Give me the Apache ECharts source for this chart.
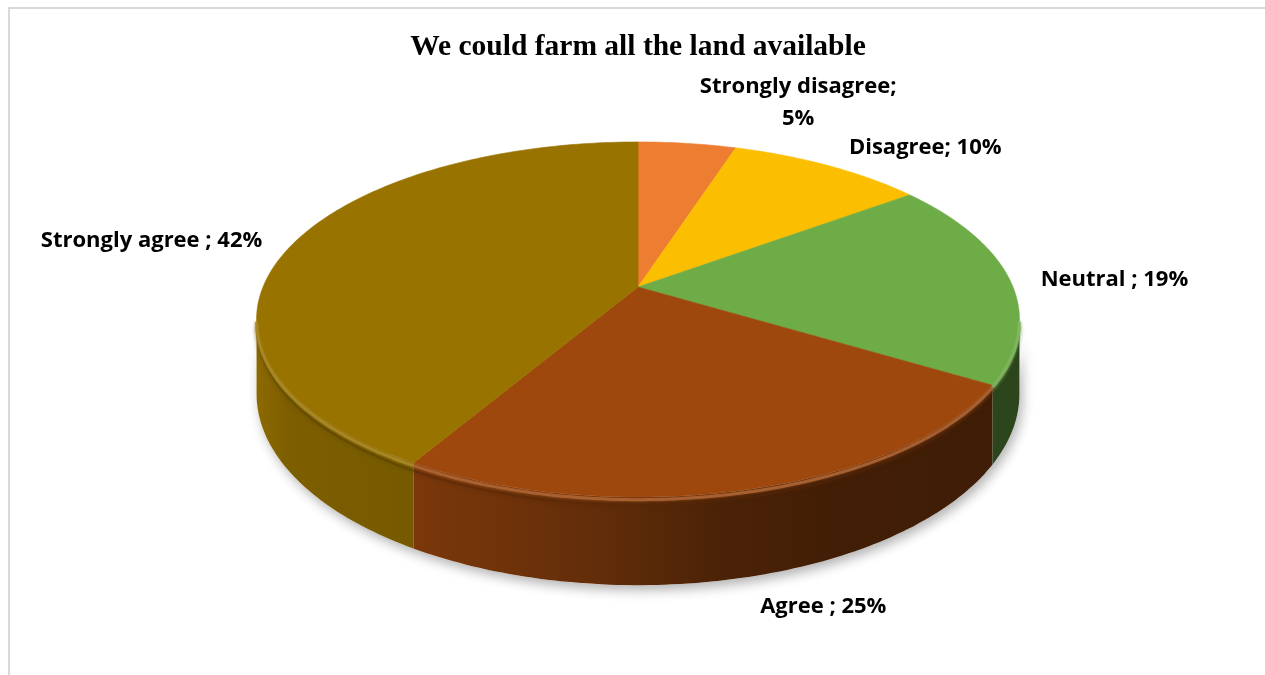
<!DOCTYPE html>
<html>
<head>
<meta charset="utf-8">
<title>We could farm all the land available</title>
<script src="https://cdn.jsdelivr.net/npm/echarts@6/dist/echarts.min.js"></script>
<style>
  html, body { margin: 0; padding: 0; background: #ffffff; }
  #chart { width: 1265px; height: 675px; }
</style>
</head>
<body>
<div id="chart"></div>
<script>
// Survey answers and their shares (percent)
const chartTitle = 'We could farm all the land available';
const categories = ['Strongly disagree', 'Disagree', 'Neutral ', 'Agree ', 'Strongly agree '];
const shares = [5, 10, 19, 25, 42];
const sliceColors = ['#ED7D31', '#FBBE00', '#6EAC47', '#9E480E', '#997300'];

// Tilted disc: centre of the top face, horizontal / depth radii,
// perspective strength and wall height.
const disc = { cx: 638, cy: 287, rx: 375, ry: 171.6, k: 0.183, depth: 72 };

// Label placement relative to the rim point at each slice's middle angle
const labelLayout = [
  { dx: 111, dy: -41, wrap: true },
  { dx: 97, dy: -18, wrap: false },
  { dx: 105, dy: 1, wrap: false },
  { dx: 73, dy: 118, wrap: false },
  { dx: -141, dy: -3, wrap: false }
];

const TAU = Math.PI * 2;
const total = shares.reduce((s, v) => s + v, 0);
const starts = [];
shares.reduce((acc, v, i) => { starts[i] = acc / total * TAU; return acc + v; }, 0);

// Angle runs clockwise from 12 o'clock; r = 0..1, h = 0 (top) .. 1 (bottom of wall)
function project(theta, r, h) {
  const X = r * Math.sin(theta);
  const Z = -r * Math.cos(theta);
  const w = 1 - disc.k * Z;
  return [disc.cx + disc.rx * X / w, disc.cy + (disc.ry * Z + h * disc.depth) / w];
}

// Silhouette angles of the side wall
const silA = Math.acos(-disc.k);
const silB = TAU - silA;
const wallLeft = project(silB, 1, 0)[0];
const wallRight = project(silA, 1, 0)[0];

function parseHex(hex) {
  const n = parseInt(hex.slice(1), 16);
  return [(n >> 16) & 255, (n >> 8) & 255, n & 255];
}
function scaleColor(hex, f) {
  const c = parseHex(hex).map(v => Math.max(0, Math.min(255, Math.round(v * f))));
  return 'rgb(' + c.join(',') + ')';
}
function mixWhite(hex, t) {
  const c = parseHex(hex).map(v => Math.round(v + (255 - v) * t));
  return 'rgb(' + c.join(',') + ')';
}

// Light falls from the left: the wall darkens towards the right
const wallShade = [[0, 0.92], [0.04, 0.82], [0.2, 0.78], [0.3, 0.72], [0.45, 0.62], [0.6, 0.48], [0.75, 0.42], [1, 0.40]];

function arcPoints(a0, a1, h) {
  const n = Math.max(2, Math.ceil((a1 - a0) / (Math.PI / 180)));
  const pts = [];
  for (let j = 0; j <= n; j++) pts.push(project(a0 + (a1 - a0) * j / n, 1, h));
  return pts;
}

function renderSlice(params, api) {
  const i = params.dataIndex;
  const value = api.value(0);
  const a0 = starts[i];
  const a1 = a0 + value / total * TAU;
  const color = sliceColors[i];
  const children = [];

  // Soft shadow under the whole disc
  if (i === 0) {
    const top = arcPoints(silA, silB, 0.15);
    const bottom = arcPoints(silA, silB, 1).reverse();
    children.push({
      type: 'polygon', z2: 0, silent: true,
      shape: { points: top.concat(bottom) },
      style: { fill: '#ffffff', shadowBlur: 12, shadowOffsetX: 3, shadowOffsetY: 5, shadowColor: 'rgba(0,0,0,0.30)' }
    });
  }

  // Top face
  const face = [project(0, 0, 0)].concat(arcPoints(a0, a1, 0));
  children.push({
    type: 'polygon', z2: 10,
    shape: { points: face },
    style: { fill: color, stroke: color, lineWidth: 0.6 }
  });

  // Visible part of the side wall
  const w0 = Math.max(a0, silA);
  const w1 = Math.min(a1, silB);
  if (w1 > w0) {
    const topEdge = arcPoints(w0, w1, 0);
    const bottomEdge = arcPoints(w0, w1, 1).reverse();
    const stops = wallShade.map(s => ({ offset: s[0], color: scaleColor(color, s[1]) }));
    children.push({
      type: 'polygon', z2: 2,
      shape: { points: topEdge.concat(bottomEdge) },
      style: {
        fill: new echarts.graphic.LinearGradient(wallLeft, 0, wallRight, 0, stops, true),
        stroke: null
      }
    });
    // Bevelled rim along the front edge
    children.push({
      type: 'polyline', z2: 11, silent: true,
      shape: { points: arcPoints(w0, w1, 0.03) },
      style: { stroke: mixWhite(color, 0.16), lineWidth: 3, fill: null, opacity: 0.85, shadowBlur: 3, shadowColor: mixWhite(color, 0.1) }
    });
    children.push({
      type: 'polyline', z2: 3, silent: true,
      shape: { points: arcPoints(w0, w1, 0.09) },
      style: { stroke: scaleColor(color, 0.55), lineWidth: 2, fill: null, opacity: 0.5, shadowBlur: 4, shadowColor: scaleColor(color, 0.5) }
    });
  }

  // Data label: "category; value%"
  const mid = (a0 + a1) / 2;
  const anchor = project(mid, 1, 0);
  const lay = labelLayout[i];
  const text = categories[i] + (lay.wrap ? ';\n' : '; ') + value + '%';
  children.push({
    type: 'text', z2: 20,
    x: anchor[0] + lay.dx, y: anchor[1] + lay.dy,
    style: {
      text: text, fill: '#000000',
      fontFamily: 'Open Sans', fontWeight: 'bold', fontSize: 22, lineHeight: 32,
      align: 'center', verticalAlign: 'middle'
    }
  });

  return { type: 'group', children: children };
}

const chart = echarts.init(document.getElementById('chart'), null, { renderer: 'canvas' });
chart.setOption({
  backgroundColor: '#ffffff',
  animation: false,
  graphic: [
    {
      type: 'rect', silent: true,
      shape: { x: 9, y: 8, width: 1300, height: 700 },
      style: { fill: null, stroke: '#d9d9d9', lineWidth: 2 }
    },
    {
      type: 'text', silent: true,
      x: 638, y: 47,
      style: {
        text: chartTitle, fill: '#000000',
        fontFamily: 'Liberation Serif', fontWeight: 'bold', fontSize: 29.5,
        align: 'center', verticalAlign: 'middle'
      }
    }
  ],
  series: [{
    type: 'custom',
    coordinateSystem: 'none',
    name: chartTitle,
    data: shares.map((v, i) => ({ name: categories[i], value: [v] })),
    renderItem: renderSlice
  }]
});
</script>
</body>
</html>
